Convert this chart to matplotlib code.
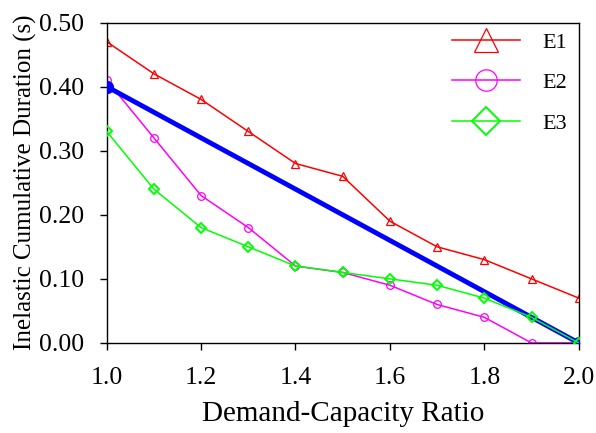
import matplotlib
matplotlib.use("Agg")
import matplotlib.pyplot as plt

# Demand-capacity ratios and inelastic cumulative durations (s)
ratio = [1.0, 1.1, 1.2, 1.3, 1.4, 1.5, 1.6, 1.7, 1.8, 1.9, 2.0]
e1 = [0.47, 0.42, 0.38, 0.33, 0.28, 0.26, 0.19, 0.15, 0.13, 0.10, 0.07]
e2 = [0.41, 0.32, 0.23, 0.18, 0.12, 0.11, 0.09, 0.06, 0.04, 0.00, 0.00]
e3 = [0.33, 0.24, 0.18, 0.15, 0.12, 0.11, 0.10, 0.09, 0.07, 0.04, 0.00]

# Linear reference line between the end points
trend_x = [1.0, 2.0]
trend_y = [0.40, 0.00]

xticks = [1.0, 1.2, 1.4, 1.6, 1.8, 2.0]
yticks = [0.0, 0.1, 0.2, 0.3, 0.4, 0.5]

plt.rcParams['font.family'] = ['Liberation Serif', 'DejaVu Serif']

fig = plt.figure(figsize=(5.96, 4.33), dpi=100)
ax = fig.add_axes([0.179, 0.208, 0.792, 0.740])

ax.plot(ratio, e1, color='#ff0000', lw=1.1, marker='^', ms=6, mfc='none',
        mec='#ff0000', mew=0.9, label='E1')
ax.plot(ratio, e2, color='#ff00ff', lw=1.1, marker='o', ms=5.5, mfc='none',
        mec='#ff00ff', mew=0.9, label='E2')
ax.plot(trend_x, trend_y, color='#0000ff', lw=3.5, marker='o', ms=8.5,
        mfc='#0000ff', mec='#0000ff', zorder=3)
ax.plot(ratio, e3, color='#00ff00', lw=1.1, marker='D', ms=5, mfc='none',
        mec='#00ff00', mew=1.4, label='E3', zorder=4)

ax.set_xlim(1.0, 2.0)
ax.set_ylim(0.0, 0.5)
ax.set_xticks(xticks)
ax.set_yticks(yticks)
ax.set_xticklabels([f"{v:.1f}" for v in xticks])
ax.set_yticklabels([f"{v:.2f}" for v in yticks])
ax.tick_params(direction='out', length=5, width=1, labelsize=18.5)
ax.tick_params(axis='x', pad=12)
ax.tick_params(axis='y', pad=11)
for sp in ax.spines.values():
    sp.set_linewidth(1)

ax.set_xlabel('Demand-Capacity Ratio', fontsize=21, labelpad=9)
ax.set_ylabel('Inelastic Cumulative Duration (s)', fontsize=18, labelpad=2)

leg = ax.legend(loc='upper right', frameon=False, fontsize=16, markerscale=2.8,
                handlelength=3.1, labelspacing=0.9, borderaxespad=0.0,
                handletextpad=1.0, bbox_to_anchor=(0.995, 0.998))

fig.savefig('out.png', dpi=100)
